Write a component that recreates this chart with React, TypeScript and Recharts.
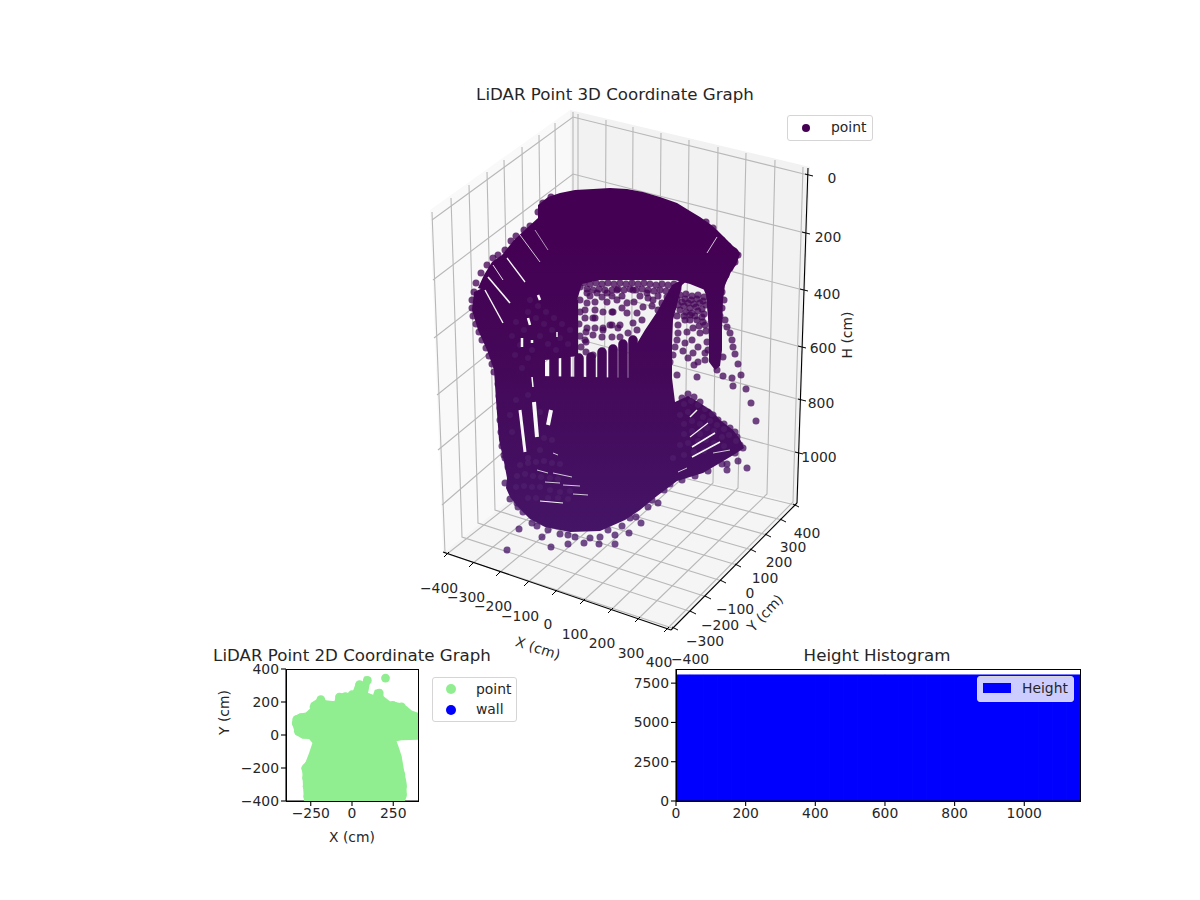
import React from 'react';
import {
  Bar,
  BarChart,
  Scatter,
  ScatterChart,
  XAxis,
  YAxis,
} from 'recharts';

type P = number[];
const FONT = '"DejaVu Sans", sans-serif';
const INK = '#262626';
const PURPLE = '#440154';
const GREEN = '#90ee90';
const GRID3D = '#b8b8b8';

// ---- 3D box, read in the view plane of the 3D axes (u right, v down)
const leftPane: P[] = [[443, 553], [430, 210], [570, 110], [574, 449]];
const rightPane: P[] = [[570, 110], [810, 167], [798, 504], [574, 449]];
const floorPane: P[] = [[443, 553], [574, 449], [798, 504], [671, 631]];

const xGridLines: P[][] = [
  [[447, 554], [578, 451], [578, 114]],
  [[472, 564], [604, 457], [606, 120]],
  [[499, 573], [631, 463], [633, 127]],
  [[527, 583], [658, 470], [661, 133]],
  [[555, 592], [685, 476], [689, 140]],
  [[583, 601], [713, 483], [718, 147]],
  [[611, 610], [738, 488], [746, 153]],
  [[638, 619], [767, 494], [775, 160]],
  [[667, 629], [793, 502], [803, 167]],
];
const yGridLines: P[][] = [
  [[672, 628], [445, 553], [432, 212]],
  [[692, 612], [462, 537], [451, 198]],
  [[707, 597], [478, 523], [469, 185]],
  [[722, 581], [495, 510], [487, 172]],
  [[737, 565], [511, 497], [504, 160]],
  [[752, 550], [527, 485], [522, 147]],
  [[767, 535], [543, 473], [539, 135]],
  [[782, 520], [558, 462], [555, 123]],
  [[795, 505], [573, 451], [573, 112]],
];
const hGridLines: P[][] = [
  [[432, 220], [573, 117], [808, 175]],
  [[433, 280], [573, 174], [805, 233]],
  [[434, 338], [573, 230], [803, 290]],
  [[437, 395], [574, 285], [801, 347]],
  [[438, 450], [574, 338], [801, 400]],
  [[442, 505], [574, 391], [798, 453]],
];
const xAxisLine: P[] = [[443, 552], [671, 630]];
const yAxisLine: P[] = [[671, 630], [797, 503]];
const hAxisLine: P[] = [[797, 503], [808, 168]];

const xTickMarks: P[] = [[447, 554], [472, 564], [499, 573], [527, 583], [555, 592], [583, 601], [611, 610], [638, 619], [667, 629]];
const yTickMarks: P[] = [[674, 628], [692, 612], [707, 597], [722, 581], [737, 565], [752, 550], [767, 535], [782, 520], [795, 505]];
const hTickMarks: P[] = [[808, 175], [805, 233], [803, 290], [801, 347], [801, 400], [798, 453]];

const xTickLabels = ['−400', '−300', '−200', '−100', '0', '100', '200', '300', '400'];
const xLabelSpots: P[] = [[439, 588], [466, 597], [493, 606], [520, 616], [548, 624], [575, 634], [602, 643], [631, 653], [659, 662]];
const yTickLabels = ['−400', '−300', '−200', '−100', '0', '100', '200', '300', '400'];
const yLabelSpots: P[] = [[690, 659], [705, 641], [720, 625], [735, 609], [750, 593], [765, 578], [779, 562], [793, 547], [807, 533]];
const hTickLabels = ['0', '200', '400', '600', '800', '1000'];
const hLabelSpots: P[] = [[832, 178], [828, 237], [827, 294], [823, 348], [821, 403], [819, 457]];

// ---- point cloud, outlines of the saturated parts
const domeOutline: P[] = [
  [538, 205], [548, 197], [560, 193], [575, 190], [593, 189], [610, 188], [627, 189], [643, 192],
  [660, 197], [677, 203], [690, 211], [700, 217], [710, 224], [717, 230], [727, 240], [733, 246],
  [738, 250], [740, 254], [736, 265], [731, 272], [725, 285], [705, 290], [690, 284], [675, 280],
  [640, 280], [600, 280], [582, 284], [577, 300], [560, 312], [520, 310], [490, 292], [478, 288],
  [484, 275], [492, 262], [502, 255], [514, 240], [527, 228], [538, 218],
];
const leftColumnOutline: P[] = [
  [474, 292], [472, 310], [478, 330], [487, 350], [494, 370], [496, 400], [499, 440], [504, 462],
  [507, 478], [540, 492], [582, 480], [582, 378], [545, 378], [545, 360], [578, 356], [578, 300],
  [540, 290], [500, 280],
];
const lowerMassOutline: P[] = [
  [540, 376], [640, 378], [672, 378], [675, 402], [688, 396], [700, 403], [712, 411], [720, 420],
  [733, 430], [740, 439], [744, 448], [735, 454], [720, 463], [703, 473], [690, 477], [677, 481],
  [665, 490], [657, 496], [640, 510], [625, 520], [600, 531], [570, 532], [545, 527], [530, 519],
  [518, 507], [510, 497], [506, 488], [507, 478],
];
const pillarOutline: P[] = [
  [700, 270], [682, 285], [673, 320], [672, 345], [672, 395], [636, 395], [636, 345], [645, 330],
  [657, 312], [672, 285],
];
const columnOutline: P[] = [
  [725, 285], [723, 300], [722, 330], [722, 350], [720, 366], [715, 370], [709, 362], [709, 340],
  [708, 318], [706, 295], [702, 285],
];
// the nearly vertical scan lines under the hole
const scanBars: P[][] = [
  [[554, 358], [554, 400]],
  [[566, 358], [566, 400]],
  [[579, 358], [579, 400]],
  [[591, 357], [591, 400]],
  [[602, 352], [602, 400]],
  [[613, 349], [613, 400]],
  [[623, 344], [623, 400]],
  [[633, 340], [633, 400]],
];
// gaps between scan lines where the panes show through
const scanGaps: number[][][] = [
  [[520, 235], [540, 262], [0.8]],
  [[535, 230], [548, 250], [0.6]],
  [[507, 258], [525, 282], [1.3]],
  [[493, 265], [503, 280], [0.9]],
  [[488, 277], [510, 303], [1.6]],
  [[485, 290], [503, 323], [1.4]],
  [[528, 318], [530, 325], [2.5]],
  [[522, 338], [522, 347], [2.5]],
  [[538, 295], [540, 300], [2.5]],
  [[532, 340], [532, 343], [2.5]],
  [[557, 332], [557, 337], [1.5]],
  [[520, 410], [525, 452], [3]],
  [[534, 402], [537, 437], [4]],
  [[551, 410], [548, 425], [4]],
  [[532, 377], [533, 387], [1.5]],
  [[537, 470], [548, 473], [0.8]],
  [[553, 473], [572, 477], [0.8]],
  [[540, 501], [563, 503], [1.2]],
  [[545, 482], [560, 483], [0.8]],
  [[563, 485], [580, 486], [0.8]],
  [[573, 494], [588, 495], [0.8]],
  [[553, 453], [558, 455], [0.8]],
  [[690, 417], [697, 410], [1.5]],
  [[690, 437], [708, 423], [1.1]],
  [[692, 447], [715, 433], [1.5]],
  [[692, 457], [720, 442], [1.5]],
  [[713, 453], [730, 450], [0.8]],
  [[678, 472], [687, 468], [0.8]],
  [[707, 253], [717, 237], [0.8]],
];
// single returns, hand read
const sparsePoints: P[] = [
  [725, 320], [727, 327], [730, 333], [732, 340], [733, 347], [735, 354], [738, 364], [741, 375],
  [732, 378], [723, 376], [717, 370], [723, 357], [693, 353], [698, 347], [705, 353], [705, 360],
  [698, 362], [694, 365], [687, 332], [693, 328], [700, 333], [685, 343], [692, 340], [678, 325],
  [685, 320], [690, 320], [697, 377], [677, 375], [675, 347], [673, 355], [670, 362], [677, 340],
  [756, 421], [751, 403], [746, 389], [733, 386], [747, 468], [738, 461], [727, 470],
  [585, 310], [595, 310], [603, 312], [612, 312], [593, 318], [585, 318], [595, 328], [603, 328],
  [587, 328], [602, 337], [593, 335], [585, 340], [612, 337], [612, 325], [620, 325], [633, 323],
  [627, 313], [637, 313], [643, 307], [627, 303], [617, 300], [607, 302], [597, 293], [587, 293],
  [633, 290], [647, 293], [653, 300], [662, 303], [667, 297], [673, 307], [620, 337], [628, 333],
  [637, 330], [642, 320], [607, 293], [617, 290], [580, 287], [587, 303], [595, 318], [586, 332],
  [586, 342], [586, 352], [593, 355], [603, 330], [610, 325], [618, 328], [613, 312],
  [580, 300], [580, 312], [579, 324], [580, 336], [581, 347],
  // lattice under the dome
  [584, 283], [590, 284], [596, 283], [602, 284], [608, 283], [614, 284], [620, 283], [626, 284],
  [632, 283], [638, 284], [644, 283], [650, 284], [656, 285], [662, 284], [668, 285], [674, 284],
  [587, 289], [593, 290], [599, 289], [605, 290], [612, 290], [618, 289], [624, 290], [630, 289],
  [636, 290], [642, 289], [648, 290], [654, 291], [660, 290], [666, 291], [672, 291], [678, 289],
  [590, 296], [602, 297], [612, 296], [622, 296], [640, 296], [648, 298], [658, 296], [672, 299],
  [595, 302], [622, 308], [634, 302], [652, 306], [664, 309], [658, 310],
  // lattice between pillar and column
  [680, 295], [686, 294], [692, 296], [698, 295], [704, 297], [682, 302], [688, 303], [694, 304],
  [700, 303], [706, 305], [680, 310], [686, 312], [692, 313], [698, 311], [704, 314], [697, 320],
  [703, 322], [706, 331], [707, 342], [708, 350], [678, 333], [683, 351], [688, 358], [677, 299],
  [685, 299], [691, 300], [697, 299], [703, 301], [678, 305], [684, 306], [690, 308], [696, 307],
  [702, 309], [677, 316], [684, 316], [690, 315], [695, 316], [702, 317], [705, 325], [699, 326],
  // edge of the cloud, bottom
  [507, 550], [519, 529], [542, 537], [551, 547], [568, 544], [584, 543], [599, 544], [615, 544],
  [629, 533], [641, 523], [658, 503], [648, 507], [630, 518], [615, 535], [600, 537],
  [560, 534], [575, 537], [590, 538], [537, 526], [548, 530], [568, 535], [608, 530], [622, 526],
  [636, 517], [652, 500], [664, 490], [670, 484], [682, 480], [695, 476], [708, 471], [722, 464],
  // edge of the cloud, left and lower left
  [505, 483], [513, 475], [510, 499], [516, 494], [518, 507], [523, 512], [532, 523], [508, 467],
  [505, 458], [502, 446], [504, 455], [498, 384], [499, 396], [500, 408], [500, 420], [501, 432],
  [511, 483], [520, 482], [528, 481], [522, 493], [530, 492], [517, 503], [526, 503],
  [494, 372], [492, 364], [489, 356], [486, 348], [482, 340], [479, 332], [476, 324], [473, 316],
  [472, 308], [472, 300], [474, 292], [476, 283], [481, 273], [487, 265], [493, 258], [498, 255],
  [505, 250], [511, 241], [516, 236], [524, 230], [530, 226], [538, 212], [543, 203], [551, 197],
  // edge of the cloud, fan on the right
  [688, 394], [682, 398], [694, 397], [700, 402], [708, 412], [718, 420], [730, 428], [735, 432],
  [737, 437], [743, 448], [740, 445], [735, 453], [727, 464], [724, 424], [713, 415],
  // dome right end and column
  [722, 240], [728, 246], [734, 251], [738, 255], [735, 262], [730, 268], [726, 275], [722, 283],
  [722, 292], [724, 300], [722, 308], [720, 316], [713, 228], [706, 222],
];
// returns that stay visible inside the saturated parts
const ghostPoints: P[] = [
  [684, 404], [691, 401], [698, 405], [705, 409], [712, 414], [680, 415], [688, 412], [703, 417],
  [710, 421], [717, 425], [724, 429], [684, 424], [692, 421], [700, 424], [707, 428], [714, 431],
  [684, 434], [692, 431], [700, 434], [722, 437], [729, 435], [736, 441], [680, 445], [688, 443],
  [698, 441], [706, 440], [714, 443], [724, 446], [684, 455], [694, 452], [704, 451], [673, 458],
  [520, 465], [528, 463], [536, 462], [544, 461], [552, 463], [560, 464], [517, 476], [525, 474],
  [533, 476], [541, 477], [550, 478], [558, 479], [516, 487], [524, 486], [532, 487], [540, 487],
  [550, 490], [560, 492], [570, 491], [528, 498], [536, 498], [548, 498], [558, 498], [568, 499],
  [530, 300], [538, 306], [546, 312], [554, 318], [562, 324], [570, 330], [528, 312], [536, 318],
  [544, 324], [552, 330], [560, 338], [568, 344], [516, 322], [524, 330], [532, 350], [540, 336],
  [548, 344], [556, 350], [512, 336], [520, 345], [528, 358], [515, 355], [522, 368],
  [540, 412], [544, 438], [528, 458], [540, 450], [552, 440], [528, 395], [516, 400], [510, 415],
  [512, 432],
];

// ---- 2D scatter, in cm
const silhouette2d: P[] = [
  [-291, -400], [-297, -311], [-301, -230], [-307, -200], [-280, -160], [-260, -109], [-240, -48], [-260, -24],
  [-301, -22], [-342, 2], [-362, 63], [-352, 113], [-321, 129], [-280, 137], [-250, 164], [-250, 194],
  [-219, 214], [-189, 234], [-158, 210], [-107, 204], [-93, 244], [-56, 255], [-25, 255], [5, 265],
  [25, 319], [66, 325], [76, 356], [117, 345], [107, 305], [97, 255], [128, 244], [138, 275],
  [178, 279], [193, 234], [230, 204], [270, 198], [291, 194], [332, 174], [362, 149], [403, 133],
  [403, -28], [301, -32], [270, -38], [285, -79], [301, -129], [315, -210], [331, -291], [331, -372],
  [321, -400],
];
const points2d: P[] = [
  [203, 345], [93, 331], [46, 305], [72, 275], [165, 254], [-76, 230], [0, 244], [-189, 214],
  [-230, 170], [-335, 93], [-338, 73], [-325, 22], [-290, 8], [-307, 105], [-280, -200], [-275, -260],
  [-272, -310], [-268, -372], [305, -310], [305, -360], [296, -240], [240, -15], [300, 170], [345, 125],
  [248, 180], [-120, 180], [-40, 232], [100, 225],
];

// ---- histogram of heights
const heightBins = [
  20, 60, 100, 140, 180, 220, 260, 300, 340, 380, 420, 460, 500, 540, 580, 620, 660, 700, 740, 780,
  820, 860, 900, 940, 980, 1020, 1060, 1100, 1140,
];
const heightCounts = [
  8020, 8020, 8020, 8020, 8020, 8020, 8020, 8020, 8020, 8020, 8020, 8020, 8020, 8020, 8020, 8020,
  8020, 8020, 8020, 8020, 8020, 8020, 8020, 8020, 8020, 8020, 8020, 8020, 8020,
];
const histData = heightBins.map((bin, i) => ({ bin, count: heightCounts[i] }));

const pts = (arr: P[]) => arr.map(([u, v]) => ({ u, v }));
const noMark = () => <g />;
const minusTick = (v: number) => String(v).replace('-', '−');

const polygonOf = (fill: string) => (p: any) => (
  <polygon points={p.points.map((q: any) => `${q.x},${q.y}`).join(' ')} fill={fill} stroke="none" />
);
const dotOf = (r: number, fill: string, opacity = 1) => (p: any) => (
  <circle cx={p.cx} cy={p.cy} r={r} fill={fill} fillOpacity={opacity} />
);
const textMark = (size: number, angle = 0) => (p: any) => (
  <text
    x={p.cx}
    y={p.cy}
    fontSize={size}
    fontFamily={FONT}
    fill={INK}
    textAnchor="middle"
    dominantBaseline="central"
    transform={angle ? `rotate(${angle} ${p.cx} ${p.cy})` : undefined}
  >
    {p.payload.t}
  </text>
);

const seriesLine = (key: string, points: P[], stroke: string, width: number, cap: any = 'butt') => (
  <Scatter
    key={key}
    data={pts(points)}
    shape={noMark}
    isAnimationActive={false}
    line={{ stroke, strokeWidth: width, strokeLinecap: cap, fill: 'none' }}
    lineType="joint"
  />
);
const seriesPolygon = (key: string, points: P[], fill: string) => (
  <Scatter key={key} data={pts(points)} shape={noMark} isAnimationActive={false} line={polygonOf(fill)} lineType="joint" />
);
const seriesLabels = (key: string, labels: string[], spots: P[], size = 13.9, angle = 0) => (
  <Scatter
    key={key}
    data={labels.map((t, i) => ({ u: spots[i][0], v: spots[i][1], t }))}
    shape={textMark(size, angle)}
    isAnimationActive={false}
  />
);

function Chart3D() {
  const ticks: React.ReactNode[] = [];
  xTickMarks.forEach(([u, v], i) => ticks.push(seriesLine(`xt${i}`, [[u + 2, v - 2], [u - 3, v + 3]], '#000', 1)));
  yTickMarks.forEach(([u, v], i) => ticks.push(seriesLine(`yt${i}`, [[u - 2, v - 1], [u + 4, v + 2]], '#000', 1)));
  hTickMarks.forEach(([u, v], i) => ticks.push(seriesLine(`ht${i}`, [[u - 3, v - 1], [u + 5, v + 1]], '#000', 1)));
  return (
    <ScatterChart width={460} height={590} margin={{ top: 0, right: 0, bottom: 0, left: 0 }}>
      <defs>
        <linearGradient id="cloud-fill" gradientUnits="userSpaceOnUse" x1="0" y1="150" x2="0" y2="440">
          <stop offset="0%" stopColor={PURPLE} />
          <stop offset="45%" stopColor="#440859" />
          <stop offset="100%" stopColor="#451466" />
        </linearGradient>
      </defs>
      <XAxis type="number" dataKey="u" domain={[420, 880]} hide allowDataOverflow />
      <YAxis type="number" dataKey="v" domain={[90, 680]} reversed hide allowDataOverflow width={0} />
      {seriesPolygon('left-pane', leftPane, '#f9f9f9')}
      {seriesPolygon('right-pane', rightPane, '#f2f2f2')}
      {seriesPolygon('floor-pane', floorPane, '#f5f5f5')}
      {xGridLines.map((l, i) => seriesLine(`xg${i}`, l, GRID3D, 1.1))}
      {yGridLines.map((l, i) => seriesLine(`yg${i}`, l, GRID3D, 1.1))}
      {hGridLines.map((l, i) => seriesLine(`hg${i}`, l, GRID3D, 1.1))}
      {seriesLine('x-axis', xAxisLine, '#000', 1.1)}
      {seriesLine('y-axis', yAxisLine, '#000', 1.1)}
      {seriesLine('h-axis', hAxisLine, '#000', 1.1)}
      {ticks}
      <Scatter data={pts(sparsePoints)} shape={dotOf(3.5, 'url(#cloud-fill)', 0.76)} isAnimationActive={false} />
      {seriesPolygon('dome', domeOutline, 'url(#cloud-fill)')}
      {seriesPolygon('left-column', leftColumnOutline, 'url(#cloud-fill)')}
      {seriesPolygon('lower-mass', lowerMassOutline, 'url(#cloud-fill)')}
      {seriesPolygon('pillar', pillarOutline, 'url(#cloud-fill)')}
      {seriesPolygon('column', columnOutline, 'url(#cloud-fill)')}
      {scanBars.map((l, i) => seriesLine(`bar${i}`, l, 'url(#cloud-fill)', 9.5, 'round'))}
      <Scatter data={pts(ghostPoints)} shape={dotOf(3, '#6a4585', 0.2)} isAnimationActive={false} />
      {scanGaps.map((g, i) => seriesLine(`gap${i}`, [g[0], g[1]], '#f8f8f8', g[2][0]))}
      {seriesLabels('x-ticks', xTickLabels, xLabelSpots)}
      {seriesLabels('y-ticks', yTickLabels, yLabelSpots)}
      {seriesLabels('h-ticks', hTickLabels, hLabelSpots)}
      {seriesLabels('x-name', ['X (cm)'], [[538, 648]], 13.9, 18)}
      {seriesLabels('y-name', ['Y (cm)'], [[765, 613]], 13.9, -47)}
      {seriesLabels('h-name', ['H (cm)'], [[847, 335]], 13.9, -90)}
    </ScatterChart>
  );
}

const axisTick = { fill: INK, fontSize: 13.9, fontFamily: FONT };
const axisLine = { stroke: '#000', strokeWidth: 1.1 };
const tickLine = { stroke: '#000', strokeWidth: 1.1 };

function Chart2D() {
  return (
    <ScatterChart width={240} height={220} margin={{ top: 29, right: 22, bottom: 0, left: 0 }}>
      <XAxis
        type="number"
        dataKey="u"
        domain={[-400, 400]}
        ticks={[-250, 0, 250]}
        allowDataOverflow
        height={59}
        tick={axisTick}
        tickFormatter={minusTick}
        axisLine={axisLine}
        tickLine={tickLine}
        tickSize={5}
        label={{ value: 'X (cm)', position: 'insideBottom', offset: 18, fill: INK, fontSize: 13.9, fontFamily: FONT }}
      />
      <YAxis
        type="number"
        dataKey="v"
        domain={[-400, 400]}
        ticks={[-400, -200, 0, 200, 400]}
        allowDataOverflow
        width={86}
        tick={axisTick}
        tickFormatter={minusTick}
        axisLine={axisLine}
        tickLine={tickLine}
        tickSize={5}
        label={{ value: 'Y (cm)', angle: -90, position: 'insideLeft', offset: 24, fill: INK, fontSize: 13.9, fontFamily: FONT }}
      />
      {seriesPolygon('cloud-2d', silhouette2d, GREEN)}
      <Scatter data={pts(points2d)} shape={dotOf(4.4, GREEN)} isAnimationActive={false} />
    </ScatterChart>
  );
}

function Histogram() {
  return (
    <BarChart width={480} height={190} data={histData} barCategoryGap={0} margin={{ top: 29, right: 20, bottom: 0, left: 0 }}>
      <XAxis
        type="number"
        dataKey="bin"
        domain={[0, 1160]}
        ticks={[0, 200, 400, 600, 800, 1000]}
        allowDataOverflow
        height={29}
        tick={axisTick}
        axisLine={axisLine}
        tickLine={tickLine}
        tickSize={5}
      />
      <YAxis
        type="number"
        domain={[0, 8400]}
        ticks={[0, 2500, 5000, 7500]}
        width={56}
        tick={axisTick}
        axisLine={axisLine}
        tickLine={tickLine}
        tickSize={5}
      />
      <Bar dataKey="count" fill="#0000ff" stroke="#0000ff" strokeWidth={1} isAnimationActive={false} />
    </BarChart>
  );
}

const frameStyle = (left: number, top: number, width: number, height: number): React.CSSProperties => ({
  position: 'absolute',
  left,
  top,
  width,
  height,
  boxSizing: 'border-box',
  border: '1px solid #000',
  pointerEvents: 'none',
});
const titleStyle = (cx: number, top: number): React.CSSProperties => ({
  position: 'absolute',
  left: cx - 200,
  top,
  width: 400,
  textAlign: 'center',
  fontFamily: FONT,
  fontSize: 16.67,
  color: INK,
  lineHeight: '20px',
});
const legendBox = (left: number, top: number, width: number, height: number): React.CSSProperties => ({
  position: 'absolute',
  left,
  top,
  width,
  height,
  boxSizing: 'border-box',
  border: '1px solid #d5d5d5',
  borderRadius: 3,
  background: 'rgba(255,255,255,0.8)',
  fontFamily: FONT,
  fontSize: 13.9,
  color: INK,
});
const legendText = (left: number, top: number): React.CSSProperties => ({
  position: 'absolute',
  left,
  top,
  lineHeight: '16px',
});
const legendDot = (left: number, top: number, size: number, color: string): React.CSSProperties => ({
  position: 'absolute',
  left,
  top,
  width: size,
  height: size,
  borderRadius: '50%',
  background: color,
});

export default function App() {
  return (
    <div style={{ position: 'absolute', left: 0, top: 0, width: 1200, height: 900, background: '#fff', overflow: 'hidden' }}>
      <div style={{ position: 'absolute', left: 420, top: 90 }}>
        <Chart3D />
      </div>
      <div style={{ position: 'absolute', left: 200, top: 640 }}>
        <Chart2D />
      </div>
      <div style={{ position: 'absolute', left: 620, top: 640 }}>
        <Histogram />
      </div>
      <div style={frameStyle(286, 669, 133, 133)} />
      <div style={frameStyle(676, 669, 405, 133)} />
      <div style={titleStyle(615, 85)}>LiDAR Point 3D Coordinate Graph</div>
      <div style={titleStyle(352, 646)}>LiDAR Point 2D Coordinate Graph</div>
      <div style={titleStyle(877, 646)}>Height Histogram</div>

      <div style={legendBox(787, 115, 86, 26)}>
        <span style={legendDot(14, 8, 8, PURPLE)} />
        <span style={legendText(43, 3)}>point</span>
      </div>
      <div style={legendBox(432, 677, 85, 45)}>
        <span style={legendDot(13, 6, 10, GREEN)} />
        <span style={legendText(43, 3)}>point</span>
        <span style={legendDot(13, 27, 10, '#0000ff')} />
        <span style={legendText(43, 23)}>wall</span>
      </div>
      <div style={legendBox(977, 676, 97, 26)}>
        <span style={{ position: 'absolute', left: 5, top: 6, width: 28, height: 10, background: '#0000ff' }} />
        <span style={legendText(44, 3)}>Height</span>
      </div>
    </div>
  );
}
